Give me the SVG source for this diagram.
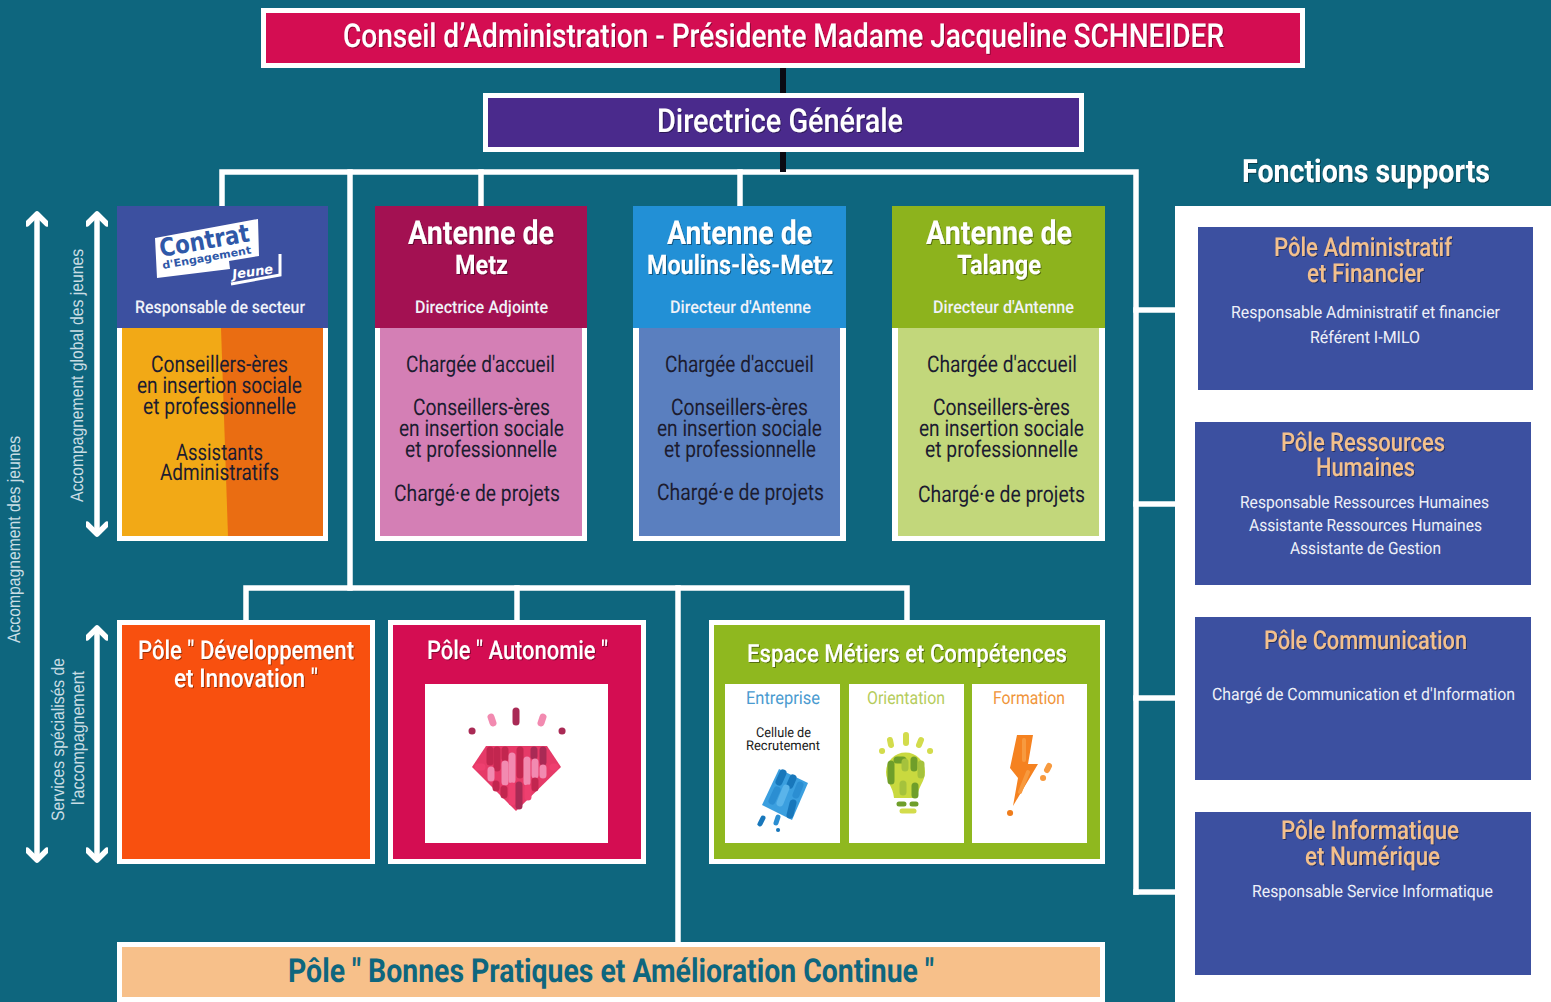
<svg xmlns="http://www.w3.org/2000/svg" width="1551" height="1002" viewBox="0 0 1551 1002">
<style>
text{font-family:"Roboto","Liberation Sans",sans-serif;text-rendering:geometricPrecision}
.h{fill:#fff;font-weight:500;filter:url(#ts)}
.hb{fill:#fff;font-weight:700;filter:url(#ts)}
.sub{fill:#f0f2f8;font-size:17.5px;font-weight:500}
.b{fill:#1c1c30;font-size:23px;font-weight:400}
.sh{fill:#f3c08c;font-size:26px;font-weight:500;filter:url(#ts)}
.st{fill:#eef0f8;font-size:17px}
.rot{fill:#c9dde4;font-size:18px;font-family:"Liberation Sans",sans-serif}
.logo{font-weight:700;font-family:"DejaVu Sans",sans-serif}
.frame{fill:#fff}
.c{stroke:#fff;stroke-width:5.5;fill:none;stroke-linecap:square}
.k{stroke:#0a0a12;stroke-width:6;fill:none}
.arrow{stroke:#fff;stroke-width:5.5;fill:none;marker-start:url(#chev);marker-end:url(#chev)}
.px{fill:none;stroke-linecap:round;stroke-width:7}
.d1{stroke:#c2264f}.d2{stroke:#ee3f6f}.d3{stroke:#f28ab0}.d4{stroke:#a92a55}
.g1{stroke:#6f9e2a}.g2{stroke:#d3dc4c}.g3{stroke:#a5c23c}
.o1{stroke:#ef7d1c}.o2{stroke:#f79a3f}
.u1{stroke:#1877bb}.u2{stroke:#5ab4ea}.u3{stroke:#2b8ed2}
</style>
<defs>
<filter id="ts" x="-5%" y="-20%" width="110%" height="140%"><feDropShadow dx="1" dy="1" stdDeviation="0.5" flood-color="#000" flood-opacity="0.4"/></filter>
<marker id="chev" viewBox="0 0 20 20" refX="16" refY="10" markerWidth="22" markerHeight="22" markerUnits="userSpaceOnUse" orient="auto-start-reverse"><path d="M7 1 L16 10 L7 19" fill="none" stroke="#fff" stroke-width="5" stroke-linecap="round" stroke-linejoin="round"/></marker>
</defs>
<rect width="1551" height="1002" fill="#0e667e"/>

<g id="connectors">
<path class="c" d="M222 206V172H1136V892"/>
<path class="c" d="M350 172V588"/>
<path class="c" d="M481 172V206"/>
<path class="c" d="M740 172V206"/>
<path class="c" d="M1136 310H1175"/>
<path class="c" d="M1136 504H1175"/>
<path class="c" d="M1136 698H1175"/>
<path class="c" d="M1136 892H1175"/>
<path class="c" d="M246 620V588H907V620"/>
<path class="c" d="M517 588V620"/>
<path class="c" d="M678 588V942"/>
<path class="k" d="M783 67V93"/>
<path class="k" d="M783 152V172"/>
</g>

<g id="conseil">
<rect class="frame" x="261" y="8" width="1044" height="60"/>
<rect x="266" y="13" width="1034" height="50" fill="#d40d52"/>
<text class="h" x="343" y="47" font-size="33" textLength="881" lengthAdjust="spacingAndGlyphs">Conseil d’Administration - Présidente Madame Jacqueline SCHNEIDER</text>
</g>
<g id="directrice">
<rect class="frame" x="483" y="93" width="601" height="59"/>
<rect x="488" y="98" width="591" height="49" fill="#4a2a8c"/>
<text class="h" x="657" y="132" font-size="33" textLength="246" lengthAdjust="spacingAndGlyphs">Directrice Générale</text>
</g>

<g id="arrows">
<line class="arrow" x1="37" y1="214" x2="37" y2="860"/>
<line class="arrow" x1="97" y1="214" x2="97" y2="534"/>
<line class="arrow" x1="97" y1="628" x2="97" y2="860"/>
<text class="rot" transform="translate(20 643) rotate(-90)" textLength="207" lengthAdjust="spacingAndGlyphs">Accompagnement des jeunes</text>
<text class="rot" transform="translate(83 502) rotate(-90)" textLength="253" lengthAdjust="spacingAndGlyphs">Accompagnement global des jeunes</text>
<text class="rot" transform="translate(64 821) rotate(-90)" textLength="163" lengthAdjust="spacingAndGlyphs">Services spécialisés de</text>
<text class="rot" transform="translate(84 805) rotate(-90)" textLength="134" lengthAdjust="spacingAndGlyphs">l'accompagnement</text>
</g>

<g id="contrat">
<rect class="frame" x="117" y="328" width="211" height="213"/>
<rect x="117" y="206" width="211" height="122" fill="#3c50a0"/>
<rect x="122" y="328" width="201" height="208" fill="#f2a916"/>
<polygon points="221,328 323,328 323,536 228,536" fill="#ea6d12"/>
<polygon points="155,238 258,219 259,256 229,261 230,269 157,278" fill="#fff"/>
<path d="M231 284 L280 275 V254" fill="none" stroke="#fff" stroke-width="3"/>
<text class="logo" x="161" y="257" transform="rotate(-10 161 257)" font-size="25" fill="#2f58a8" textLength="91" lengthAdjust="spacingAndGlyphs">Contrat</text>
<text class="logo" x="163" y="269" transform="rotate(-10 163 269)" font-size="10.5" fill="#2f58a8" textLength="90" lengthAdjust="spacingAndGlyphs">d'Engagement</text>
<text class="logo" x="233" y="279" transform="rotate(-8 233 279)" font-size="13" fill="#fff" font-style="italic" textLength="41" lengthAdjust="spacingAndGlyphs">Jeune</text>
<text class="sub" x="135" y="313" textLength="170" lengthAdjust="spacingAndGlyphs">Responsable de secteur</text>
<text class="b" x="151" y="372" textLength="137" lengthAdjust="spacingAndGlyphs">Conseillers-ères</text>
<text class="b" x="137" y="393" textLength="165" lengthAdjust="spacingAndGlyphs">en insertion sociale</text>
<text class="b" x="143" y="414" textLength="153" lengthAdjust="spacingAndGlyphs">et professionnelle</text>
<text class="b" x="176" y="460" textLength="87" lengthAdjust="spacingAndGlyphs">Assistants</text>
<text class="b" x="160" y="480" textLength="119" lengthAdjust="spacingAndGlyphs">Administratifs</text>
</g>

<g id="metz">
<rect class="frame" x="375" y="328" width="212" height="213"/>
<rect x="375" y="206" width="212" height="122" fill="#a31152"/>
<rect x="380" y="328" width="202" height="208" fill="#d47fb5"/>
<text class="hb" x="408" y="244" font-size="33" textLength="146" lengthAdjust="spacingAndGlyphs">Antenne de</text>
<text class="hb" x="455" y="274" font-size="27" textLength="53" lengthAdjust="spacingAndGlyphs">Metz</text>
<text class="sub" x="415" y="313" textLength="133" lengthAdjust="spacingAndGlyphs">Directrice Adjointe</text>
<text class="b" x="406" y="372" textLength="149" lengthAdjust="spacingAndGlyphs">Chargée d'accueil</text>
<text class="b" x="413" y="415" textLength="137" lengthAdjust="spacingAndGlyphs">Conseillers-ères</text>
<text class="b" x="399" y="436" textLength="165" lengthAdjust="spacingAndGlyphs">en insertion sociale</text>
<text class="b" x="405" y="457" textLength="152" lengthAdjust="spacingAndGlyphs">et professionnelle</text>
<text class="b" x="394" y="501" textLength="166" lengthAdjust="spacingAndGlyphs">Chargé·e de projets</text>
</g>

<g id="moulins">
<rect class="frame" x="633" y="328" width="213" height="213"/>
<rect x="633" y="206" width="213" height="122" fill="#2290d6"/>
<rect x="639" y="328" width="201" height="208" fill="#5a7fbf"/>
<text class="hb" x="667" y="244" font-size="33" textLength="145" lengthAdjust="spacingAndGlyphs">Antenne de</text>
<text class="hb" x="647" y="274" font-size="27" textLength="186" lengthAdjust="spacingAndGlyphs">Moulins-lès-Metz</text>
<text class="sub" x="670" y="313" textLength="141" lengthAdjust="spacingAndGlyphs">Directeur d'Antenne</text>
<text class="b" x="665" y="372" textLength="149" lengthAdjust="spacingAndGlyphs">Chargée d'accueil</text>
<text class="b" x="671" y="415" textLength="137" lengthAdjust="spacingAndGlyphs">Conseillers-ères</text>
<text class="b" x="657" y="436" textLength="165" lengthAdjust="spacingAndGlyphs">en insertion sociale</text>
<text class="b" x="664" y="457" textLength="152" lengthAdjust="spacingAndGlyphs">et professionnelle</text>
<text class="b" x="657" y="500" textLength="167" lengthAdjust="spacingAndGlyphs">Chargé·e de projets</text>
</g>

<g id="talange">
<rect class="frame" x="892" y="328" width="213" height="213"/>
<rect x="892" y="206" width="213" height="122" fill="#8db31d"/>
<rect x="898" y="328" width="201" height="208" fill="#c2d77b"/>
<text class="hb" x="926" y="244" font-size="33" textLength="146" lengthAdjust="spacingAndGlyphs">Antenne de</text>
<text class="hb" x="957" y="274" font-size="27" textLength="84" lengthAdjust="spacingAndGlyphs">Talange</text>
<text class="sub" x="933" y="313" textLength="141" lengthAdjust="spacingAndGlyphs">Directeur d'Antenne</text>
<text class="b" x="927" y="372" textLength="150" lengthAdjust="spacingAndGlyphs">Chargée d'accueil</text>
<text class="b" x="933" y="415" textLength="137" lengthAdjust="spacingAndGlyphs">Conseillers-ères</text>
<text class="b" x="919" y="436" textLength="165" lengthAdjust="spacingAndGlyphs">en insertion sociale</text>
<text class="b" x="925" y="457" textLength="153" lengthAdjust="spacingAndGlyphs">et professionnelle</text>
<text class="b" x="918" y="502" textLength="167" lengthAdjust="spacingAndGlyphs">Chargé·e de projets</text>
</g>

<g id="developpement">
<rect class="frame" x="117" y="620" width="258" height="244"/>
<rect x="122" y="625" width="248" height="234" fill="#f8500f"/>
<text class="h" x="138" y="659" font-size="26" textLength="216" lengthAdjust="spacingAndGlyphs">Pôle " Développement</text>
<text class="h" x="174" y="687" font-size="26" textLength="144" lengthAdjust="spacingAndGlyphs">et Innovation "</text>
</g>

<g id="autonomie">
<rect class="frame" x="388" y="620" width="258" height="244"/>
<rect x="393" y="625" width="248" height="234" fill="#d40d52"/>
<rect x="425" y="684" width="183" height="159" fill="#fff"/>
<text class="h" x="427" y="659" font-size="26" textLength="181" lengthAdjust="spacingAndGlyphs">Pôle " Autonomie "</text>
<polygon points="486,746 547,746 561,767 516,811 472,767" fill="#e63a68"/>
<g class="px">
<path class="d4" d="M516 711V722"/>
<path class="d3" d="M491 717L493 723M543 717L541 723"/>
<path class="d4" d="M472 731h.1M562 731h.1"/>
<path class="d1" d="M490 750V762"/>
<path class="d2" d="M478 767h4"/>
<path class="d1" d="M497 750V768"/>
<path class="d3" d="M491 770V778"/>
<path class="d1" d="M496 784V788"/>
<path class="d1" d="M505 750V758"/>
<path class="d3" d="M505 764V782"/>
<path class="d1" d="M504 789V795"/>
<path class="d3" d="M512 756V780"/>
<path class="d2" d="M512 786V802"/>
<path class="d1" d="M520 750V775"/>
<path class="d4" d="M519 785V806"/>
<path class="d3" d="M527 760V782"/>
<path class="d2" d="M528 788V797"/>
<path class="d4" d="M534 750V756"/>
<path class="d3" d="M535 762V775"/>
<path class="d1" d="M535 781V788"/>
<path class="d4" d="M543 750V762"/>
<path class="d3" d="M543 768V775"/>
<path class="d2" d="M553 767h2"/>
</g>
</g>

<g id="espace">
<rect class="frame" x="709" y="620" width="396" height="244"/>
<rect x="714" y="625" width="386" height="234" fill="#8fb81f"/>
<rect x="725" y="684" width="115" height="159" fill="#fff"/>
<rect x="849" y="684" width="115" height="159" fill="#fff"/>
<rect x="972" y="684" width="115" height="159" fill="#fff"/>
<text class="h" x="747" y="662" font-size="25" textLength="320" lengthAdjust="spacingAndGlyphs">Espace Métiers et Compétences</text>
<text x="746" y="704" font-size="18" fill="#4a9bd0" textLength="74" lengthAdjust="spacingAndGlyphs">Entreprise</text>
<text x="867" y="704" font-size="18" fill="#b5cc5c" textLength="78" lengthAdjust="spacingAndGlyphs">Orientation</text>
<text x="993" y="704" font-size="18" fill="#f0953a" textLength="72" lengthAdjust="spacingAndGlyphs">Formation</text>
<text x="756" y="737" font-size="13.5" fill="#1a1a1a" textLength="55" lengthAdjust="spacingAndGlyphs">Cellule de</text>
<text x="746" y="750" font-size="13.5" fill="#1a1a1a" textLength="74" lengthAdjust="spacingAndGlyphs">Recrutement</text>
<polygon points="779,769 808,783 792,820 762,805" fill="#3b9fdf"/>
<path d="M886 772a19.500 19.500 0 0 1 39 0c0 10-7 14-8 26h-23c-1-12-8-16-8-26z" fill="#c9d93f"/>
<polygon points="1017,735 1033,735 1028,764 1038,764 1013,806 1018,778 1010,768" fill="#f58220"/>
<g class="px">
<path class="u1" d="M783 773L779 782M793 778L790 785"/>
<path class="u3" d="M777 790L772 801M800 785L796 795"/>
<path class="u2" d="M786 788L780 803"/>
<path class="u1" d="M793 803L790 815"/>
<path class="u1" stroke-width="5" d="M763 818L760 824"/>
<path class="u3" stroke-width="5" d="M778 817L776 823"/>
<path class="u1" stroke-width="4" d="M778 830h.1"/>
<path class="g2" stroke-width="6" d="M890 740L891 745M906 735V743M921 740L919 745M882 751h.1M930 751h.1"/>
<path class="g1" d="M891 764V781"/>
<path class="g1" d="M897 760h6"/>
<path class="g3" d="M905 762V768"/>
<path class="g1" d="M914 760V768"/>
<path class="g3" d="M921 764V775"/>
<path class="g1" d="M915 786V795"/>
<path class="g3" d="M903 784V792"/>
<path class="g1" stroke-width="5" d="M899 804H904M912 804H916"/>
<path class="g2" stroke-width="5" d="M902 811H914"/>
<path class="o2" stroke-width="4" d="M1024 740V760M1028 772L1020 792"/>
<path class="o1" stroke-width="6" d="M1010 813h.1"/>
<path class="o2" stroke-width="6" d="M1049 766L1047 770M1043 778h.1"/>
</g>
</g>

<g id="bonnes-pratiques">
<rect class="frame" x="117" y="942" width="988" height="60"/>
<rect x="122" y="947" width="978" height="50" fill="#f7c08a"/>
<text x="288" y="982" font-size="33" font-weight="700" fill="#0e667e" textLength="646" lengthAdjust="spacingAndGlyphs">Pôle " Bonnes Pratiques et Amélioration Continue "</text>
</g>

<g id="fonctions-supports">
<text class="hb" x="1242" y="182" font-size="32" textLength="248" lengthAdjust="spacingAndGlyphs">Fonctions supports</text>
<rect x="1175" y="206" width="376" height="796" fill="#fff"/>
</g>
<g id="pole-administratif">
<rect x="1198" y="227" width="335" height="163" fill="#3c50a0"/>
<text class="sh" x="1274" y="256" textLength="178" lengthAdjust="spacingAndGlyphs">Pôle Administratif</text>
<text class="sh" x="1307" y="282" textLength="117" lengthAdjust="spacingAndGlyphs">et Financier</text>
<text class="st" x="1231" y="318" textLength="269" lengthAdjust="spacingAndGlyphs">Responsable Administratif et financier</text>
<text class="st" x="1310" y="343" textLength="110" lengthAdjust="spacingAndGlyphs">Référent I-MILO</text>
</g>
<g id="pole-rh">
<rect x="1195" y="422" width="336" height="163" fill="#3c50a0"/>
<text class="sh" x="1281" y="451" textLength="164" lengthAdjust="spacingAndGlyphs">Pôle Ressources</text>
<text class="sh" x="1316" y="476" textLength="99" lengthAdjust="spacingAndGlyphs">Humaines</text>
<text class="st" x="1240" y="508" textLength="249" lengthAdjust="spacingAndGlyphs">Responsable Ressources Humaines</text>
<text class="st" x="1249" y="531" textLength="233" lengthAdjust="spacingAndGlyphs">Assistante Ressources Humaines</text>
<text class="st" x="1290" y="554" textLength="151" lengthAdjust="spacingAndGlyphs">Assistante de Gestion</text>
</g>
<g id="pole-communication">
<rect x="1195" y="617" width="336" height="163" fill="#3c50a0"/>
<text class="sh" x="1264" y="649" textLength="203" lengthAdjust="spacingAndGlyphs">Pôle Communication</text>
<text class="st" x="1212" y="700" textLength="303" lengthAdjust="spacingAndGlyphs">Chargé de Communication et d'Information</text>
</g>
<g id="pole-informatique">
<rect x="1195" y="812" width="336" height="163" fill="#3c50a0"/>
<text class="sh" x="1281" y="839" textLength="178" lengthAdjust="spacingAndGlyphs">Pôle Informatique</text>
<text class="sh" x="1305" y="865" textLength="135" lengthAdjust="spacingAndGlyphs">et Numérique</text>
<text class="st" x="1252" y="897" textLength="241" lengthAdjust="spacingAndGlyphs">Responsable Service Informatique</text>
</g>
</svg>
